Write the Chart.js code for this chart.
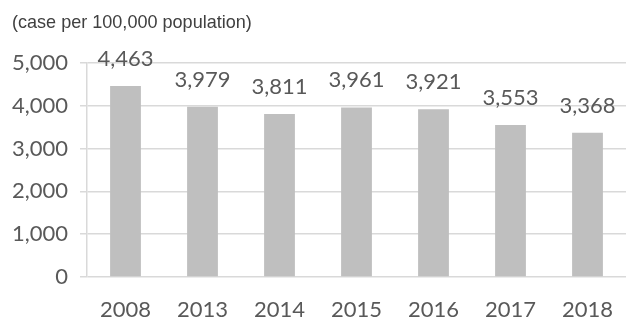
<!DOCTYPE html>
<html>
<head>
<meta charset="utf-8">
<script src="https://cdn.jsdelivr.net/npm/chart.js@4"></script>
<style>
  html, body { margin: 0; padding: 0; background: #fff; }
  #wrap { width: 627px; height: 324px; position: relative; }
</style>
</head>
<body>
<div id="wrap"><canvas id="c" width="627" height="324"></canvas></div>
<script>
// Incidence per 100,000 population by year
const years = ['2008', '2013', '2014', '2015', '2016', '2017', '2018'];
const cases = [4463, 3979, 3811, 3961, 3921, 3553, 3368];
const yTicks = [0, 1000, 2000, 3000, 4000, 5000];
const unitNote = '(case per 100,000 population)';

const fmt = v => v.toLocaleString('en-US');
const TEXT = '#595959';
const NUM_FONT = { family: 'Lato, "Open Sans", sans-serif', size: 22 };

// Draws the unit note at top-left and the value above each bar
const annotate = {
  id: 'annotate',
  afterDatasetsDraw(chart) {
    const { ctx } = chart;
    ctx.save();
    ctx.fillStyle = '#404040';
    ctx.font = '19px "Liberation Sans", Arial, sans-serif';
    ctx.textAlign = 'left';
    ctx.textBaseline = 'alphabetic';
    // slightly condensed note text
    ctx.save();
    ctx.translate(12, 28);
    ctx.scale(0.95, 1);
    ctx.fillText(unitNote, 0, 0);
    ctx.restore();

    const meta = chart.getDatasetMeta(0);
    const yScale = chart.scales.y;
    ctx.fillStyle = TEXT;
    ctx.font = `${NUM_FONT.size}px ${NUM_FONT.family}`;
    ctx.textAlign = 'center';
    meta.data.forEach((bar, i) => {
      const top = yScale.getPixelForValue(cases[i]);
      ctx.fillText(fmt(cases[i]), bar.x, top - 20);
    });
    ctx.restore();
  }
};

new Chart(document.getElementById('c'), {
  type: 'bar',
  data: {
    labels: years,
    datasets: [{
      data: cases,
      backgroundColor: '#bfbfbf',
      borderWidth: 0,
      categoryPercentage: 1,
      barPercentage: 0.4
    }]
  },
  options: {
    responsive: false,
    animation: false,
    layout: { padding: { top: 63, right: 1, left: 0, bottom: 0 } },
    plugins: {
      legend: { display: false },
      tooltip: { enabled: false },
      title: { display: false }
    },
    scales: {
      x: {
        grid: { display: false },
        border: { display: false },
        ticks: { color: TEXT, font: NUM_FONT, padding: 12, maxRotation: 0 },
        afterFit(s) { s.height = 47; }
      },
      y: {
        min: 0,
        max: 5000,
        afterBuildTicks(s) { s.ticks = yTicks.map(v => ({ value: v })); },
        grid: { color: '#d9d9d9', lineWidth: 1.5, tickLength: 7 },
        border: { display: true, color: '#d9d9d9', width: 1.5 },
        ticks: { color: TEXT, font: NUM_FONT, padding: 12, callback: v => fmt(v) },
        afterFit(s) { s.width = 87; }
      }
    }
  },
  plugins: [annotate]
});
</script>
</body>
</html>
